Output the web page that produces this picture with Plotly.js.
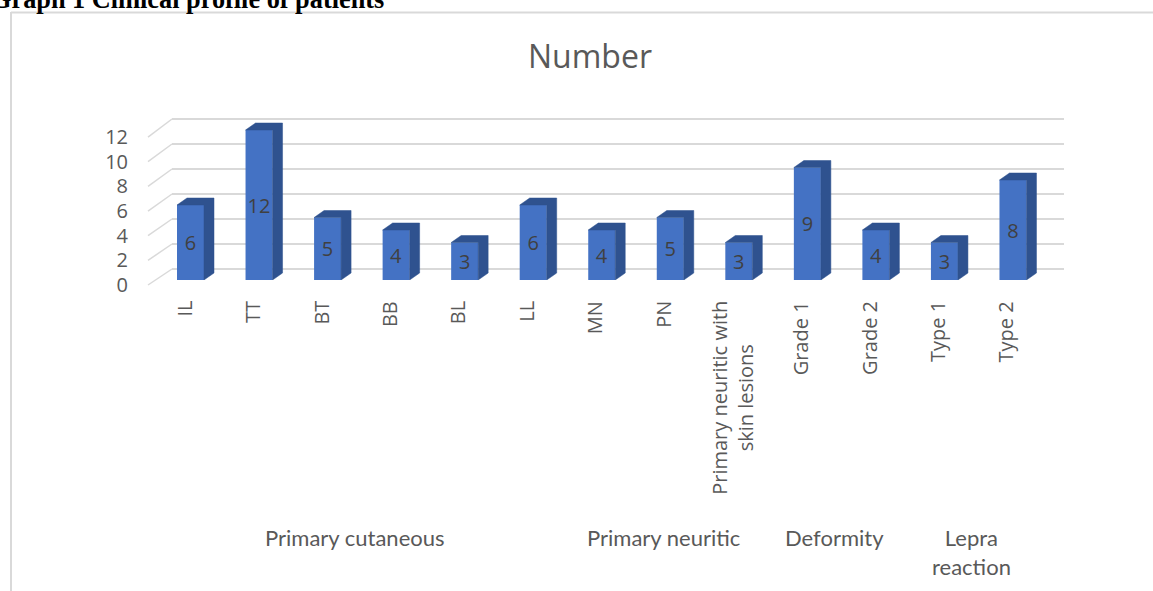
<!DOCTYPE html>
<html>
<head>
<meta charset="utf-8">
<script src="https://cdn.plot.ly/plotly-3.0.1.min.js"></script>
<style>html,body{margin:0;padding:0;background:#fff;}#chart{width:1153px;height:591px;}</style>
</head>
<body>
<div id="chart"></div>
<script>
// ---- data ----
const categories = ["IL","TT","BT","BB","BL","LL","MN","PN","Primary neuritic with<br>skin lesions","Grade 1","Grade 2","Type 1","Type 2"];
const values = [6,12,5,4,3,6,4,5,3,9,4,3,8];
const groupLabels = ["Primary cutaneous","Primary neuritic","Deformity","Lepra<br>reaction"];
const groupStart = [0,6,9,11];
const groupEnd = [5,8,10,12];
const yTicks = [0,2,4,6,8,10,12];
const chartTitle = "Number";
const pageHeading = "Graph 1 Clinical profile of patients";

// ---- geometry (pixels) ----
const W = 1153, H = 591;
const px = v => v / W, py = v => 1 - v / H;
const slot = 68.54, firstCenter = 190.5;
const unitPx = 12.5, yMax = 13;
const xDom = [px(firstCenter - slot/2), px(firstCenter + slot*12.5)];
const yDom = [py(280), py(280 - yMax * unitPx)];
const barW = 0.394;
const depthX = 10 / slot;        // data units
const depthY = 7 / unitPx;       // data units
const wallPx = v => 269 - v * 12.5;
const frontPx = v => 285 - v * 12.33;

const xs = categories.map((c, i) => i);

// side + top faces as polygons
const polyX = [], polyY = [];
values.forEach((v, i) => {
  const xl = i - barW/2, xr = i + barW/2;
  polyX.push(xl, xl + depthX, xr + depthX, xr + depthX, xr, xr, xl, null);
  polyY.push(v, v + depthY, v + depthY, depthY, 0, v, v, null);
});

const traces = [
  {type:'scatter', x: polyX, y: polyY, mode:'lines', fill:'toself',
   fillcolor:'#2F528F', line:{color:'#2F528F', width:0.5}, hoverinfo:'skip', showlegend:false,
   xaxis:'x', yaxis:'y'},
  {type:'bar', x: xs, y: values, width: barW, marker:{color:'#4472C4', line:{width:0}},
   text: values.map(String), textposition:'inside', insidetextanchor:'middle', textangle:0,
   constraintext:'none',
   textfont:{family:'Open Sans, sans-serif', size:20, color:'#404040'},
   hoverinfo:'skip', showlegend:false, xaxis:'x', yaxis:'y'},
  {type:'scatter', x:[null], y:[null], xaxis:'x', yaxis:'y2', showlegend:false, hoverinfo:'skip'}
];

const shapes = [];
// page borders
shapes.push({type:'line', xref:'paper', yref:'paper', x0:px(11), x1:px(11), y0:py(12), y1:0, line:{color:'#d9d9d9', width:2}, layer:'below'});
shapes.push({type:'line', xref:'paper', yref:'paper', x0:px(11), x1:1, y0:py(12.5), y1:py(12.5), line:{color:'#d9d9d9', width:2}, layer:'below'});
// back wall gridlines and floor diagonals
yTicks.forEach(v => {
  shapes.push({type:'line', xref:'paper', yref:'paper', x0:px(172), x1:px(1064), y0:py(wallPx(v)), y1:py(wallPx(v)), line:{color:'#d9d9d9', width:2}, layer:'below'});
  shapes.push({type:'line', xref:'paper', yref:'paper', x0:px(148), x1:px(172), y0:py(frontPx(v)), y1:py(wallPx(v)), line:{color:'#d9d9d9', width:1.5}, layer:'below'});
});

const annotations = [];
const labFont = {family:'Open Sans, sans-serif', size:20, color:'#595959'};
categories.forEach((c, i) => {
  annotations.push({text:c, x:i, xref:'x', y:py(299), yref:'paper', xanchor:'center', yanchor:'top',
    xshift:-7, textangle:-90, showarrow:false, font:labFont, align:'center'});
});
groupLabels.forEach((g, k) => {
  annotations.push({text:g, x:(groupStart[k] + groupEnd[k]) / 2, xref:'x', y:py(522), yref:'paper',
    xanchor:'center', yanchor:'top', xshift:-7, showarrow:false, align:'center',
    font:{family:'Lato, sans-serif', size:22, color:'#595959'}});
});
annotations.push({text:'<b>' + pageHeading + '</b>', x:px(-11), xref:'paper', y:py(-1), yref:'paper',
  xanchor:'left', yanchor:'middle', showarrow:false,
  font:{family:'Liberation Serif, Times New Roman, serif', size:26.3, color:'#000'}});

const layout = {
  width: W, height: H,
  margin:{l:0, r:0, t:0, b:0},
  paper_bgcolor:'#ffffff', plot_bgcolor:'rgba(0,0,0,0)',
  showlegend:false,
  title:{text: chartTitle, x:px(590), xanchor:'center', y:py(57), yanchor:'middle',
         font:{family:'Open Sans, sans-serif', size:32, color:'#595959'}},
  xaxis:{domain:xDom, range:[-0.5, 12.5], showgrid:false, zeroline:false, showline:false,
         showticklabels:false, ticks:'', fixedrange:true},
  yaxis:{domain:yDom, range:[0, yMax], showgrid:false, zeroline:false, showline:false,
         showticklabels:false, ticks:'', fixedrange:true},
  yaxis2:{domain:[py(285), py(137)], range:[0, 12], anchor:'free', position:px(128),
          tickvals:yTicks, ticktext:yTicks.map(String), showgrid:false, zeroline:false,
          showline:false, ticks:'', tickfont:{family:'Open Sans, sans-serif', size:20, color:'#595959'}},
  shapes: shapes,
  annotations: annotations
};

Plotly.newPlot('chart', traces, layout, {staticPlot:true, displayModeBar:false});
</script>
</body>
</html>
